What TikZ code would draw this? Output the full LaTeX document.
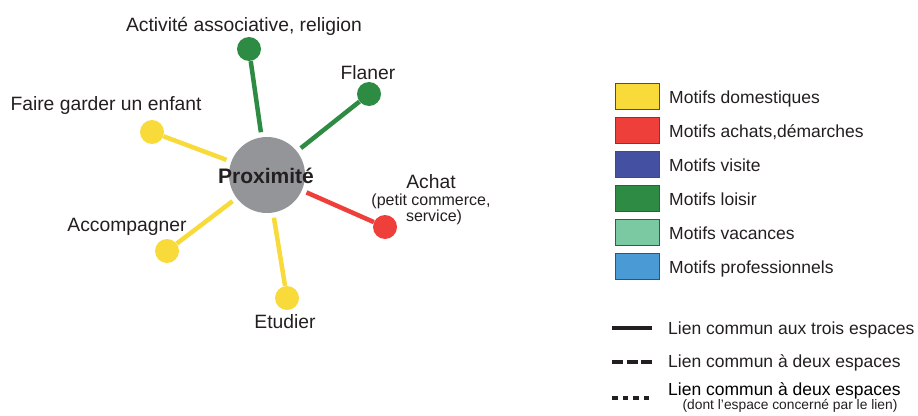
\documentclass[tikz,border=0pt]{standalone}
\usepackage{fontspec}
\setmainfont{Liberation Sans}
\definecolor{cyel}{HTML}{F8DB3A}
\definecolor{cred}{HTML}{EE3F3B}
\definecolor{cblue}{HTML}{4451A3}
\definecolor{cgreen}{HTML}{2E8B43}
\definecolor{cvac}{HTML}{7AC9A3}
\definecolor{cpro}{HTML}{4A9AD5}
\definecolor{cgray}{HTML}{939598}
\definecolor{ctext}{HTML}{231F20}
\begin{document}
\begin{tikzpicture}[x=1pt,y=-1pt,
  hub/.style={circle,fill=cgray,minimum size=76pt,inner sep=0pt},
  dot/.style={circle,minimum size=24pt,inner sep=0pt},
  link/.style={line width=4.5pt,shorten <=5pt},
  lab/.style={anchor=base,text=ctext,font=\fontsize{19.3}{21}\selectfont,inner sep=0pt},
  sublab/.style={anchor=base,text=ctext,font=\fontsize{16}{18}\selectfont,inner sep=0pt},
  legbox/.style={draw=ctext!80,line width=0.7pt,minimum width=44pt,minimum height=26pt,inner sep=0pt,anchor=north west},
  legtext/.style={anchor=base west,text=ctext,font=\fontsize{17.5}{20}\selectfont,inner sep=0pt},
  legline/.style={line width=4pt,ctext}
]
\useasboundingbox (0,0) rectangle (918,415);

% hub
\node[hub] (P) at (267,175) {};
\node[anchor=base,text=ctext,font=\bfseries\fontsize{21}{24}\selectfont,inner sep=0pt] (Plab) at (266,183) {Proximité};

% dots
\node[dot,fill=cgreen] (asso) at (249,49) {};
\node[dot,fill=cgreen] (flan) at (369,94) {};
\node[dot,fill=cyel] (garde) at (152,132) {};
\node[dot,fill=cred] (achat) at (385,227) {};
\node[dot,fill=cyel] (accomp) at (167,251) {};
\node[dot,fill=cyel] (etud) at (287,298) {};

% links
\draw[link,cgreen] (P) -- (asso);
\draw[link,cgreen] (P) -- (flan);
\draw[link,cyel] (P) -- (garde);
\draw[link,cred] (P) -- (achat);
\draw[link,cyel] (P) -- (accomp);
\draw[link,cyel] (P) -- (etud);

% labels
\node[lab] (lasso) at (244,31) {Activité associative, religion};
\node[lab] (lflan) at (368,79) {Flaner};
\node[lab] (lgarde) at (106,110) {Faire garder un enfant};
\node[lab] (lachat) at (431,188) {Achat};
\node[sublab] (lachat2) at (431,205.5) {(petit commerce,};
\node[sublab] (lachat3) at (434,221) {service)};
\node[lab] (laccomp) at (127,231) {Accompagner};
\node[lab] (letud) at (285,328) {Etudier};

% legend boxes
\node[legbox,fill=cyel] (b1) at (615,83) {};
\node[legbox,fill=cred] (b2) at (615,117) {};
\node[legbox,fill=cblue] (b3) at (615,151) {};
\node[legbox,fill=cgreen] (b4) at (615,185) {};
\node[legbox,fill=cvac] (b5) at (615,219) {};
\node[legbox,fill=cpro] (b6) at (615,253) {};
\node[legtext] (t1) at (669,103) {Motifs domestiques};
\node[legtext] (t2) at (669,137) {Motifs achats,démarches};
\node[legtext] (t3) at (669,171) {Motifs visite};
\node[legtext] (t4) at (669,205) {Motifs loisir};
\node[legtext] (t5) at (669,239) {Motifs vacances};
\node[legtext] (t6) at (669,273) {Motifs professionnels};

% line legend
\coordinate (l1a) at (612,328); \coordinate (l1b) at (652,328);
\coordinate (l2a) at (612,362); \coordinate (l2b) at (652,362);
\coordinate (l3a) at (612,398); \coordinate (l3b) at (652,398);
\draw[legline] (l1a) -- (l1b);
\draw[legline,dash pattern=on 11pt off 3.5pt] (l2a) -- (l2b);
\draw[legline,dash pattern=on 5.5pt off 5pt] (l3a) -- (l3b);
\node[legtext] (s1) at (668,334) {Lien commun aux trois espaces};
\node[legtext] (s2) at (668,367) {Lien commun à deux espaces};
\node[legtext,text=black] (s3) at (668,395) {Lien commun à deux espaces};
\node[anchor=base,text=ctext,font=\fontsize{13.8}{15}\selectfont,inner sep=0pt] (s3b) at (790,409) {(dont l'espace concerné par le lien)};
\end{tikzpicture}
\end{document}
